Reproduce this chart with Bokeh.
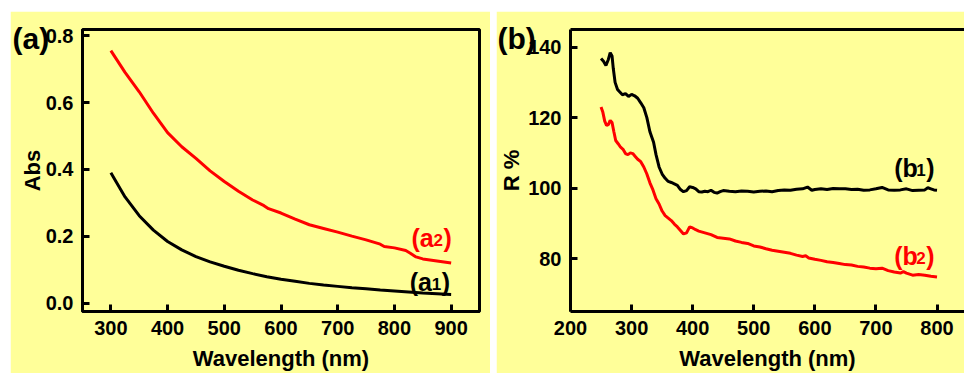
from bokeh.plotting import figure
from bokeh.layouts import row
from bokeh.models import (Label, Range1d, SingleIntervalTicker, NumeralTickFormatter,
                          LinearAxis, FixedTicker, Title)
from bokeh.embed import file_html
from bokeh.resources import INLINE

# ---------------- data: panel (a) absorbance ----------------
wl_a1 = [300, 325, 350, 375, 400, 425, 450, 475, 500, 525, 550, 575, 600, 625, 650,
         675, 700, 725, 750, 775, 800, 825, 850, 875, 900]
abs_a1 = [0.390, 0.318, 0.262, 0.219, 0.185, 0.160, 0.140, 0.124, 0.111, 0.099, 0.089,
          0.080, 0.072, 0.066, 0.060, 0.055, 0.051, 0.047, 0.044, 0.040, 0.037, 0.034,
          0.031, 0.029, 0.027]

wl_a2 = [300, 325, 350, 375, 400, 425, 450, 475, 500, 525, 550, 570, 578, 600, 625, 650,
         675, 700, 725, 750, 775, 782, 800, 820, 828, 838, 850, 875, 900]
abs_a2 = [0.755, 0.690, 0.632, 0.568, 0.510, 0.468, 0.433, 0.396, 0.364, 0.335, 0.309,
          0.292, 0.283, 0.270, 0.252, 0.235, 0.224, 0.213, 0.201, 0.190, 0.177, 0.170,
          0.166, 0.158, 0.150, 0.139, 0.133, 0.127, 0.121]

# ---------------- data: panel (b) reflectance ----------------
wl_b1 = [250, 254, 258, 262, 265, 268, 270, 273, 277, 280, 285, 290, 295, 300, 305, 310,
         315, 320, 325, 330, 333, 336, 340, 345, 350, 355, 360, 365, 370, 375, 380, 385,
         390, 395, 400, 405, 410, 415, 420, 425, 430, 435, 440, 445, 450, 460, 470, 480,
         490, 500, 510, 520, 530, 540, 550, 560, 570, 580, 588, 595, 600, 610, 620, 630,
         640, 650, 660, 670, 680, 690, 700, 710, 720, 730, 740, 750, 760, 770, 780, 785,
         790, 795, 800]
r_b1 = [136.8, 136.0, 134.8, 136.5, 138.4, 137.5, 134.0, 130.0, 128.0, 127.4, 126.5,
        126.8, 126.0, 126.6, 126.2, 125.5, 124.2, 122.8, 120.0, 116.0, 114.5, 113.0,
        109.5, 106.0, 104.0, 102.8, 101.9, 101.6, 101.2, 100.8, 99.6, 99.0, 99.3, 100.4,
        100.2, 99.8, 99.0, 98.9, 99.1, 99.0, 99.4, 98.8, 98.6, 99.0, 99.3, 99.1, 99.0,
        99.2, 99.1, 98.9, 99.1, 99.2, 99.0, 99.3, 99.5, 99.4, 99.7, 99.8, 100.3, 99.4,
        99.6, 99.8, 99.6, 99.9, 99.8, 99.8, 99.6, 99.7, 99.4, 99.5, 99.8, 100.2, 99.5,
        99.4, 99.5, 99.8, 99.3, 99.4, 99.5, 100.1, 99.8, 99.5, 99.4]

wl_b2 = [250, 253, 256, 259, 262, 265, 268, 271, 274, 278, 282, 286, 290, 294, 298, 302,
         306, 310, 315, 320, 325, 330, 335, 340, 345, 350, 355, 360, 365, 370, 375, 380,
         385, 390, 395, 400, 405, 410, 420, 430, 440, 450, 460, 470, 480, 490, 500, 510,
         520, 530, 540, 550, 560, 570, 580, 585, 590, 600, 610, 620, 630, 640, 650, 660,
         670, 680, 690, 700, 710, 720, 730, 740, 745, 750, 760, 770, 780, 790, 800]
r_b2 = [123.0, 121.5, 119.0, 117.8, 118.0, 119.2, 118.6, 116.0, 113.5, 112.6, 111.6,
        111.0, 109.8, 109.5, 110.0, 109.8, 109.0, 108.2, 107.5, 106.0, 104.0, 101.5,
        99.5, 97.0, 95.5, 93.5, 92.2, 91.5, 90.8, 89.8, 89.0, 88.0, 87.0, 87.3, 89.0,
        88.7, 88.2, 87.8, 87.3, 86.8, 86.0, 85.8, 85.6, 85.0, 84.6, 84.3, 83.6, 83.3,
        82.8, 82.4, 82.1, 81.8, 81.5, 81.0, 80.6, 80.8, 80.2, 79.8, 79.5, 79.1, 78.9,
        78.6, 78.3, 78.2, 77.8, 77.6, 77.3, 77.1, 77.3, 76.6, 76.2, 75.9, 76.3, 75.9,
        75.3, 75.5, 75.3, 75.0, 74.8]

YEL = "#FFFF99"
FONT = "Liberation Sans"


def style_axis(ax):
    ax.axis_line_width = 3
    ax.axis_line_color = "black"
    ax.major_tick_line_width = 3
    ax.major_tick_in = 7
    ax.major_tick_out = 0
    ax.minor_tick_line_color = None
    ax.major_label_text_font = FONT
    ax.major_label_text_font_style = "bold"
    ax.major_label_text_font_size = "20px"
    ax.major_label_text_color = "black"
    ax.axis_label_text_font = FONT
    ax.axis_label_text_font_style = "bold"
    ax.axis_label_text_font_size = "22px"
    ax.axis_label_text_color = "black"
    ax.major_label_standoff = 5


def style(p, xint, yint, yfmt, ylabel, ystand):
    p.xgrid.grid_line_color = None
    p.ygrid.grid_line_color = None
    p.xaxis.ticker = SingleIntervalTicker(interval=xint)
    p.yaxis.ticker = SingleIntervalTicker(interval=yint)
    if yfmt:
        p.yaxis.formatter = NumeralTickFormatter(format=yfmt)
    p.xaxis.axis_label = "Wavelength (nm)"
    p.yaxis.axis_label = ylabel
    style_axis(p.xaxis[0])
    style_axis(p.yaxis[0])
    p.xaxis.axis_label_standoff = 8
    p.yaxis.axis_label_standoff = ystand


def sublabel(p, x, y, base, sub, color):
    common = dict(text_font=FONT, text_font_style="bold", text_color=color,
                  text_baseline="alphabetic")
    p.add_layout(Label(x=x, y=y, text="(" + base, text_font_size="25px", **common))
    p.add_layout(Label(x=x, y=y, x_offset=22, y_offset=-2, text=sub,
                       text_font_size="17px", **common))
    p.add_layout(Label(x=x, y=y, x_offset=32, text=")", text_font_size="25px", **common))


def panel_tag(text, offset):
    return Title(text=text, align="left", offset=offset, standoff=-50,
                 vertical_align="bottom", text_font=FONT, text_font_style="bold",
                 text_font_size="30px", text_color="black")


# ---------------- panel (a) ----------------
xa0, xa1, ya0, ya1 = 250, 950, -0.024, 0.818
p1 = figure(width=480, height=362, x_range=Range1d(xa0, xa1), y_range=Range1d(ya0, ya1),
            output_backend="svg", toolbar_location=None,
            min_border_left=72, min_border_right=11, min_border_top=18, min_border_bottom=61,
            background_fill_color=YEL, border_fill_color=YEL)
p1.outline_line_color = "black"
p1.outline_line_width = 3
p1.outline_line_alpha = 1
style(p1, 100, 0.2, "0.0", "Abs", -2)
p1.line(wl_a1, abs_a1, line_color="black", line_width=3)
p1.line(wl_a2, abs_a2, line_color="red", line_width=3)
sublabel(p1, 830, 0.196, "a", "2", "red")
sublabel(p1, 827, 0.063, "a", "1", "black")
p1.title = panel_tag("(a)", -70)
p1.margin = (11, 0, 0, 10)

# ---------------- panel (b) ----------------
xb0, xb1, yb0, yb1 = 200, 845, 65, 145
p2 = figure(width=468, height=362, x_range=Range1d(xb0, xb1), y_range=Range1d(yb0, yb1),
            output_backend="svg", toolbar_location=None,
            min_border_left=73, min_border_right=0, min_border_top=18, min_border_bottom=61,
            background_fill_color=YEL, border_fill_color=YEL)
p2.outline_line_color = None
style(p2, 100, 20, None, "R %", 1)
top = LinearAxis(ticker=FixedTicker(ticks=[]), major_tick_in=0, major_tick_out=0,
                 axis_line_width=3, axis_line_color="black")
p2.add_layout(top, "above")
p2.line(wl_b1, r_b1, line_color="black", line_width=3)
p2.line(wl_b2, r_b2, line_color="red", line_width=3)
sublabel(p2, 730, 105.8, "b", "1", "black")
sublabel(p2, 730, 80.7, "b", "2", "red")
p2.title = panel_tag("(b)", -73)
p2.margin = (11, 0, 0, 6)

layout = row(p1, p2)
open("out.html", "w").write(file_html(layout, INLINE))
